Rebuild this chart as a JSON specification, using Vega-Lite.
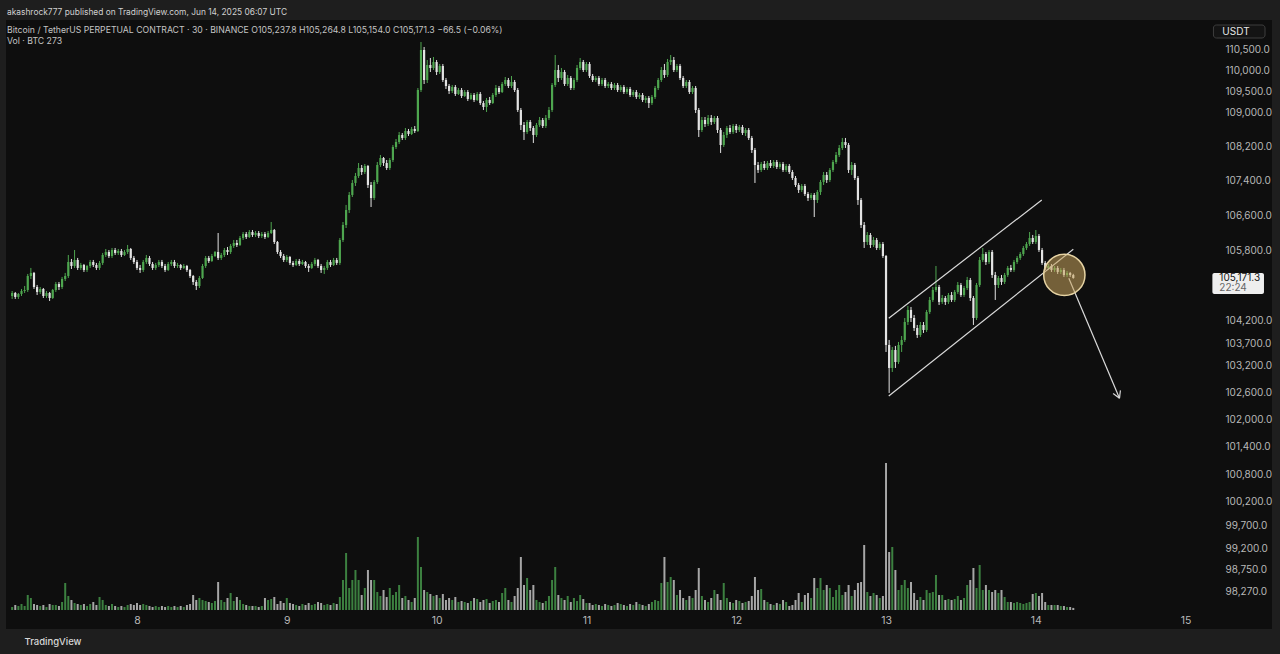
{
"$schema":"https://vega.github.io/schema/vega-lite/v6.json",
"width":1266,"height":609,
"autosize":{"type":"none"},
"padding":{"left":6,"top":20,"right":8,"bottom":25},
"background":"#1e1e1e",
"config":{"font":"Inter","view":{"fill":"#0e0e0e","stroke":null},"axis":{"grid":false,"domain":false,"ticks":false}},
"title":{"text":"akashrock777 published on TradingView.com, Jun 14, 2025 06:07 UTC","subtitle":["Bitcoin / TetherUS PERPETUAL CONTRACT · 30 · BINANCE   O105,237.8  H105,264.8  L105,154.0  C105,171.3  −66.5 (−0.06%)","Vol · BTC  273"],"anchor":"start","frame":"group","orient":"top","fontSize":8.4,"fontWeight":"normal","color":"#d0d0d0","subtitleFontSize":8.7,"subtitleColor":"#c4c4c4","subtitleLineHeight":11,"subtitlePadding":10,"offset":-26,"dx":1},
"datasets":{"candles":[
{"t":"2025-06-07T04:00Z","o":104762,"h":104875,"l":104695,"c":104830,"v":390},
{"t":"2025-06-07T04:30Z","o":104830,"h":104853,"l":104695,"c":104740,"v":650},
{"t":"2025-06-07T05:00Z","o":104740,"h":104830,"l":104695,"c":104808,"v":520},
{"t":"2025-06-07T05:30Z","o":104808,"h":104921,"l":104762,"c":104875,"v":780},
{"t":"2025-06-07T06:00Z","o":104875,"h":104989,"l":104830,"c":104898,"v":520},
{"t":"2025-06-07T06:30Z","o":104898,"h":105262,"l":104853,"c":105216,"v":1950},
{"t":"2025-06-07T07:00Z","o":105216,"h":105399,"l":105148,"c":105285,"v":1560},
{"t":"2025-06-07T07:30Z","o":105285,"h":105308,"l":104921,"c":104966,"v":780},
{"t":"2025-06-07T08:00Z","o":104966,"h":105012,"l":104785,"c":104853,"v":650},
{"t":"2025-06-07T08:30Z","o":104853,"h":104966,"l":104808,"c":104921,"v":520},
{"t":"2025-06-07T09:00Z","o":104921,"h":104943,"l":104717,"c":104762,"v":650},
{"t":"2025-06-07T09:30Z","o":104762,"h":104875,"l":104717,"c":104830,"v":390},
{"t":"2025-06-07T10:00Z","o":104830,"h":104853,"l":104649,"c":104717,"v":780},
{"t":"2025-06-07T10:30Z","o":104717,"h":104921,"l":104695,"c":104898,"v":650},
{"t":"2025-06-07T11:00Z","o":104898,"h":105080,"l":104853,"c":105034,"v":650},
{"t":"2025-06-07T11:30Z","o":105034,"h":105080,"l":104898,"c":104966,"v":520},
{"t":"2025-06-07T12:00Z","o":104966,"h":105194,"l":104921,"c":105148,"v":1040},
{"t":"2025-06-07T12:30Z","o":105148,"h":105285,"l":105102,"c":105216,"v":3510},
{"t":"2025-06-07T13:00Z","o":105216,"h":105695,"l":105171,"c":105535,"v":1820},
{"t":"2025-06-07T13:30Z","o":105535,"h":105604,"l":105376,"c":105444,"v":1300},
{"t":"2025-06-07T14:00Z","o":105444,"h":105809,"l":105399,"c":105581,"v":910},
{"t":"2025-06-07T14:30Z","o":105581,"h":105627,"l":105353,"c":105399,"v":780},
{"t":"2025-06-07T15:00Z","o":105399,"h":105513,"l":105353,"c":105467,"v":650},
{"t":"2025-06-07T15:30Z","o":105467,"h":105490,"l":105308,"c":105353,"v":780},
{"t":"2025-06-07T16:00Z","o":105353,"h":105467,"l":105308,"c":105444,"v":520},
{"t":"2025-06-07T16:30Z","o":105444,"h":105581,"l":105399,"c":105535,"v":780},
{"t":"2025-06-07T17:00Z","o":105535,"h":105581,"l":105421,"c":105467,"v":1040},
{"t":"2025-06-07T17:30Z","o":105467,"h":105513,"l":105353,"c":105399,"v":650},
{"t":"2025-06-07T18:00Z","o":105399,"h":105558,"l":105353,"c":105513,"v":1690},
{"t":"2025-06-07T18:30Z","o":105513,"h":105741,"l":105467,"c":105695,"v":1300},
{"t":"2025-06-07T19:00Z","o":105695,"h":105832,"l":105649,"c":105763,"v":650},
{"t":"2025-06-07T19:30Z","o":105763,"h":105809,"l":105627,"c":105672,"v":520},
{"t":"2025-06-07T20:00Z","o":105672,"h":105855,"l":105627,"c":105809,"v":780},
{"t":"2025-06-07T20:30Z","o":105809,"h":105855,"l":105695,"c":105741,"v":520},
{"t":"2025-06-07T21:00Z","o":105741,"h":105832,"l":105695,"c":105786,"v":390},
{"t":"2025-06-07T21:30Z","o":105786,"h":105832,"l":105649,"c":105695,"v":520},
{"t":"2025-06-07T22:00Z","o":105695,"h":105809,"l":105672,"c":105763,"v":390},
{"t":"2025-06-07T22:30Z","o":105763,"h":105924,"l":105718,"c":105832,"v":650},
{"t":"2025-06-07T23:00Z","o":105832,"h":105855,"l":105581,"c":105627,"v":780},
{"t":"2025-06-07T23:30Z","o":105627,"h":105672,"l":105490,"c":105535,"v":650},
{"t":"2025-06-08T00:00Z","o":105535,"h":105581,"l":105353,"c":105399,"v":910},
{"t":"2025-06-08T00:30Z","o":105399,"h":105467,"l":105285,"c":105353,"v":650},
{"t":"2025-06-08T01:00Z","o":105353,"h":105581,"l":105308,"c":105535,"v":780},
{"t":"2025-06-08T01:30Z","o":105535,"h":105695,"l":105490,"c":105627,"v":650},
{"t":"2025-06-08T02:00Z","o":105627,"h":105672,"l":105444,"c":105490,"v":520},
{"t":"2025-06-08T02:30Z","o":105490,"h":105535,"l":105353,"c":105399,"v":390},
{"t":"2025-06-08T03:00Z","o":105399,"h":105513,"l":105353,"c":105467,"v":520},
{"t":"2025-06-08T03:30Z","o":105467,"h":105581,"l":105421,"c":105535,"v":390},
{"t":"2025-06-08T04:00Z","o":105535,"h":105581,"l":105399,"c":105444,"v":520},
{"t":"2025-06-08T04:30Z","o":105444,"h":105490,"l":105308,"c":105353,"v":390},
{"t":"2025-06-08T05:00Z","o":105353,"h":105535,"l":105330,"c":105490,"v":520},
{"t":"2025-06-08T05:30Z","o":105490,"h":105581,"l":105444,"c":105535,"v":390},
{"t":"2025-06-08T06:00Z","o":105535,"h":105581,"l":105399,"c":105444,"v":520},
{"t":"2025-06-08T06:30Z","o":105444,"h":105513,"l":105399,"c":105467,"v":390},
{"t":"2025-06-08T07:00Z","o":105467,"h":105490,"l":105353,"c":105399,"v":520},
{"t":"2025-06-08T07:30Z","o":105399,"h":105490,"l":105376,"c":105444,"v":390},
{"t":"2025-06-08T08:00Z","o":105444,"h":105467,"l":105308,"c":105353,"v":650},
{"t":"2025-06-08T08:30Z","o":105353,"h":105376,"l":105171,"c":105216,"v":780},
{"t":"2025-06-08T09:00Z","o":105216,"h":105239,"l":105012,"c":105080,"v":1950},
{"t":"2025-06-08T09:30Z","o":105080,"h":105125,"l":104898,"c":104989,"v":1300},
{"t":"2025-06-08T10:00Z","o":104989,"h":105216,"l":104943,"c":105171,"v":1560},
{"t":"2025-06-08T10:30Z","o":105171,"h":105490,"l":105148,"c":105444,"v":1300},
{"t":"2025-06-08T11:00Z","o":105444,"h":105672,"l":105399,"c":105627,"v":1170},
{"t":"2025-06-08T11:30Z","o":105627,"h":105672,"l":105513,"c":105558,"v":1040},
{"t":"2025-06-08T12:00Z","o":105558,"h":105718,"l":105535,"c":105672,"v":910},
{"t":"2025-06-08T12:30Z","o":105672,"h":105786,"l":105649,"c":105763,"v":1170},
{"t":"2025-06-08T13:00Z","o":105763,"h":106198,"l":105581,"c":105627,"v":3640},
{"t":"2025-06-08T13:30Z","o":105627,"h":105741,"l":105581,"c":105695,"v":1300},
{"t":"2025-06-08T14:00Z","o":105695,"h":105855,"l":105649,"c":105809,"v":1040},
{"t":"2025-06-08T14:30Z","o":105809,"h":105878,"l":105695,"c":105763,"v":1560},
{"t":"2025-06-08T15:00Z","o":105763,"h":105946,"l":105718,"c":105901,"v":2210},
{"t":"2025-06-08T15:30Z","o":105901,"h":106038,"l":105855,"c":105969,"v":1170},
{"t":"2025-06-08T16:00Z","o":105969,"h":106038,"l":105878,"c":105924,"v":1690},
{"t":"2025-06-08T16:30Z","o":105924,"h":106130,"l":105901,"c":106084,"v":1300},
{"t":"2025-06-08T17:00Z","o":106084,"h":106221,"l":106038,"c":106175,"v":780},
{"t":"2025-06-08T17:30Z","o":106175,"h":106221,"l":106061,"c":106107,"v":650},
{"t":"2025-06-08T18:00Z","o":106107,"h":106267,"l":106084,"c":106221,"v":520},
{"t":"2025-06-08T18:30Z","o":106221,"h":106267,"l":106107,"c":106153,"v":520},
{"t":"2025-06-08T19:00Z","o":106153,"h":106244,"l":106107,"c":106198,"v":520},
{"t":"2025-06-08T19:30Z","o":106198,"h":106244,"l":106084,"c":106130,"v":390},
{"t":"2025-06-08T20:00Z","o":106130,"h":106221,"l":106084,"c":106175,"v":520},
{"t":"2025-06-08T20:30Z","o":106175,"h":106221,"l":106061,"c":106107,"v":1560},
{"t":"2025-06-08T21:00Z","o":106107,"h":106244,"l":106084,"c":106198,"v":1300},
{"t":"2025-06-08T21:30Z","o":106198,"h":106451,"l":106175,"c":106267,"v":1430},
{"t":"2025-06-08T22:00Z","o":106267,"h":106290,"l":105946,"c":105992,"v":1690},
{"t":"2025-06-08T22:30Z","o":105992,"h":106015,"l":105718,"c":105763,"v":780},
{"t":"2025-06-08T23:00Z","o":105763,"h":105809,"l":105627,"c":105672,"v":1170},
{"t":"2025-06-08T23:30Z","o":105672,"h":105718,"l":105535,"c":105581,"v":910},
{"t":"2025-06-09T00:00Z","o":105581,"h":105695,"l":105535,"c":105649,"v":1560},
{"t":"2025-06-09T00:30Z","o":105649,"h":105672,"l":105467,"c":105513,"v":910},
{"t":"2025-06-09T01:00Z","o":105513,"h":105558,"l":105421,"c":105467,"v":780},
{"t":"2025-06-09T01:30Z","o":105467,"h":105604,"l":105444,"c":105558,"v":650},
{"t":"2025-06-09T02:00Z","o":105558,"h":105604,"l":105444,"c":105490,"v":520},
{"t":"2025-06-09T02:30Z","o":105490,"h":105581,"l":105467,"c":105535,"v":780},
{"t":"2025-06-09T03:00Z","o":105535,"h":105558,"l":105399,"c":105444,"v":650},
{"t":"2025-06-09T03:30Z","o":105444,"h":105490,"l":105308,"c":105399,"v":910},
{"t":"2025-06-09T04:00Z","o":105399,"h":105535,"l":105376,"c":105490,"v":650},
{"t":"2025-06-09T04:30Z","o":105490,"h":105627,"l":105444,"c":105581,"v":780},
{"t":"2025-06-09T05:00Z","o":105581,"h":105604,"l":105399,"c":105444,"v":1040},
{"t":"2025-06-09T05:30Z","o":105444,"h":105490,"l":105285,"c":105353,"v":910},
{"t":"2025-06-09T06:00Z","o":105353,"h":105444,"l":105262,"c":105399,"v":650},
{"t":"2025-06-09T06:30Z","o":105399,"h":105581,"l":105353,"c":105535,"v":780},
{"t":"2025-06-09T07:00Z","o":105535,"h":105581,"l":105421,"c":105467,"v":650},
{"t":"2025-06-09T07:30Z","o":105467,"h":105627,"l":105444,"c":105581,"v":910},
{"t":"2025-06-09T08:00Z","o":105581,"h":105627,"l":105467,"c":105513,"v":780},
{"t":"2025-06-09T08:30Z","o":105513,"h":106084,"l":105467,"c":106038,"v":1690},
{"t":"2025-06-09T09:00Z","o":106038,"h":106451,"l":105992,"c":106382,"v":3900},
{"t":"2025-06-09T09:30Z","o":106382,"h":106844,"l":106313,"c":106728,"v":7410},
{"t":"2025-06-09T10:00Z","o":106728,"h":107144,"l":106659,"c":107075,"v":2860},
{"t":"2025-06-09T10:30Z","o":107075,"h":107422,"l":107028,"c":107353,"v":3900},
{"t":"2025-06-09T11:00Z","o":107353,"h":107585,"l":107283,"c":107515,"v":5200},
{"t":"2025-06-09T11:30Z","o":107515,"h":107817,"l":107469,"c":107701,"v":3900},
{"t":"2025-06-09T12:00Z","o":107701,"h":107771,"l":107539,"c":107608,"v":1950},
{"t":"2025-06-09T12:30Z","o":107608,"h":107794,"l":107562,"c":107748,"v":2860},
{"t":"2025-06-09T13:00Z","o":107748,"h":107771,"l":107236,"c":107306,"v":5200},
{"t":"2025-06-09T13:30Z","o":107306,"h":107376,"l":106797,"c":107005,"v":3900},
{"t":"2025-06-09T14:00Z","o":107005,"h":107422,"l":106959,"c":107376,"v":3900},
{"t":"2025-06-09T14:30Z","o":107376,"h":107841,"l":107329,"c":107771,"v":2340},
{"t":"2025-06-09T15:00Z","o":107771,"h":108004,"l":107725,"c":107934,"v":1820},
{"t":"2025-06-09T15:30Z","o":107934,"h":107957,"l":107748,"c":107817,"v":2600},
{"t":"2025-06-09T16:00Z","o":107817,"h":107887,"l":107655,"c":107701,"v":1690},
{"t":"2025-06-09T16:30Z","o":107701,"h":107934,"l":107655,"c":107887,"v":2860},
{"t":"2025-06-09T17:00Z","o":107887,"h":108238,"l":107841,"c":108191,"v":1950},
{"t":"2025-06-09T17:30Z","o":108191,"h":108378,"l":108144,"c":108308,"v":2340},
{"t":"2025-06-09T18:00Z","o":108308,"h":108542,"l":108261,"c":108472,"v":3250},
{"t":"2025-06-09T18:30Z","o":108472,"h":108519,"l":108355,"c":108402,"v":1560},
{"t":"2025-06-09T19:00Z","o":108402,"h":108636,"l":108355,"c":108566,"v":1820},
{"t":"2025-06-09T19:30Z","o":108566,"h":108613,"l":108449,"c":108496,"v":1300},
{"t":"2025-06-09T20:00Z","o":108496,"h":108660,"l":108472,"c":108613,"v":1040},
{"t":"2025-06-09T20:30Z","o":108613,"h":108683,"l":108519,"c":108566,"v":1560},
{"t":"2025-06-09T21:00Z","o":108566,"h":109579,"l":108542,"c":109532,"v":9490},
{"t":"2025-06-09T21:30Z","o":109532,"h":110674,"l":109485,"c":110483,"v":5590},
{"t":"2025-06-09T22:00Z","o":110483,"h":110555,"l":109674,"c":109769,"v":2600},
{"t":"2025-06-09T22:30Z","o":109769,"h":110245,"l":109698,"c":110126,"v":2340},
{"t":"2025-06-09T23:00Z","o":110126,"h":110292,"l":109959,"c":110054,"v":2080},
{"t":"2025-06-09T23:30Z","o":110054,"h":110316,"l":110007,"c":110197,"v":1820},
{"t":"2025-06-10T00:00Z","o":110197,"h":110245,"l":109888,"c":109959,"v":1950},
{"t":"2025-06-10T00:30Z","o":109959,"h":110150,"l":109912,"c":110102,"v":1560},
{"t":"2025-06-10T01:00Z","o":110102,"h":110150,"l":109722,"c":109769,"v":2080},
{"t":"2025-06-10T01:30Z","o":109769,"h":109817,"l":109556,"c":109627,"v":1300},
{"t":"2025-06-10T02:00Z","o":109627,"h":109674,"l":109438,"c":109508,"v":1560},
{"t":"2025-06-10T02:30Z","o":109508,"h":109650,"l":109461,"c":109603,"v":1300},
{"t":"2025-06-10T03:00Z","o":109603,"h":109650,"l":109390,"c":109438,"v":1690},
{"t":"2025-06-10T03:30Z","o":109438,"h":109579,"l":109414,"c":109532,"v":1040},
{"t":"2025-06-10T04:00Z","o":109532,"h":109579,"l":109343,"c":109390,"v":1170},
{"t":"2025-06-10T04:30Z","o":109390,"h":109532,"l":109367,"c":109485,"v":1040},
{"t":"2025-06-10T05:00Z","o":109485,"h":109532,"l":109272,"c":109320,"v":910},
{"t":"2025-06-10T05:30Z","o":109320,"h":109461,"l":109296,"c":109414,"v":1170},
{"t":"2025-06-10T06:00Z","o":109414,"h":109461,"l":109249,"c":109296,"v":1560},
{"t":"2025-06-10T06:30Z","o":109296,"h":109485,"l":109272,"c":109438,"v":1430},
{"t":"2025-06-10T07:00Z","o":109438,"h":109485,"l":109178,"c":109225,"v":1040},
{"t":"2025-06-10T07:30Z","o":109225,"h":109272,"l":109060,"c":109131,"v":1300},
{"t":"2025-06-10T08:00Z","o":109131,"h":109343,"l":109013,"c":109296,"v":1430},
{"t":"2025-06-10T08:30Z","o":109296,"h":109367,"l":109178,"c":109225,"v":910},
{"t":"2025-06-10T09:00Z","o":109225,"h":109461,"l":109202,"c":109414,"v":1170},
{"t":"2025-06-10T09:30Z","o":109414,"h":109650,"l":109367,"c":109579,"v":1300},
{"t":"2025-06-10T10:00Z","o":109579,"h":109627,"l":109438,"c":109485,"v":1040},
{"t":"2025-06-10T10:30Z","o":109485,"h":109722,"l":109461,"c":109674,"v":2210},
{"t":"2025-06-10T11:00Z","o":109674,"h":109840,"l":109627,"c":109769,"v":2860},
{"t":"2025-06-10T11:30Z","o":109769,"h":109817,"l":109579,"c":109627,"v":1300},
{"t":"2025-06-10T12:00Z","o":109627,"h":109864,"l":109579,"c":109722,"v":1040},
{"t":"2025-06-10T12:30Z","o":109722,"h":109769,"l":109485,"c":109532,"v":1820},
{"t":"2025-06-10T13:00Z","o":109532,"h":109579,"l":109013,"c":109060,"v":2860},
{"t":"2025-06-10T13:30Z","o":109060,"h":109107,"l":108589,"c":108707,"v":6890},
{"t":"2025-06-10T14:00Z","o":108707,"h":108777,"l":108355,"c":108542,"v":3250},
{"t":"2025-06-10T14:30Z","o":108542,"h":108824,"l":108496,"c":108777,"v":4160},
{"t":"2025-06-10T15:00Z","o":108777,"h":108824,"l":108566,"c":108636,"v":2600},
{"t":"2025-06-10T15:30Z","o":108636,"h":108683,"l":108285,"c":108472,"v":3250},
{"t":"2025-06-10T16:00Z","o":108472,"h":108754,"l":108425,"c":108707,"v":1300},
{"t":"2025-06-10T16:30Z","o":108707,"h":108895,"l":108660,"c":108824,"v":1040},
{"t":"2025-06-10T17:00Z","o":108824,"h":108871,"l":108636,"c":108683,"v":910},
{"t":"2025-06-10T17:30Z","o":108683,"h":108942,"l":108636,"c":108871,"v":1170},
{"t":"2025-06-10T18:00Z","o":108871,"h":109131,"l":108824,"c":109060,"v":1820},
{"t":"2025-06-10T18:30Z","o":109060,"h":109698,"l":109013,"c":109650,"v":3900},
{"t":"2025-06-10T19:00Z","o":109650,"h":110364,"l":109603,"c":110007,"v":5590},
{"t":"2025-06-10T19:30Z","o":110007,"h":110126,"l":109722,"c":109817,"v":1950},
{"t":"2025-06-10T20:00Z","o":109817,"h":110054,"l":109769,"c":109959,"v":1560},
{"t":"2025-06-10T20:30Z","o":109959,"h":110007,"l":109627,"c":109674,"v":1300},
{"t":"2025-06-10T21:00Z","o":109674,"h":109888,"l":109627,"c":109817,"v":1820},
{"t":"2025-06-10T21:30Z","o":109817,"h":109864,"l":109532,"c":109579,"v":1040},
{"t":"2025-06-10T22:00Z","o":109579,"h":109817,"l":109532,"c":109769,"v":1560},
{"t":"2025-06-10T22:30Z","o":109769,"h":110126,"l":109722,"c":110054,"v":1170},
{"t":"2025-06-10T23:00Z","o":110054,"h":110292,"l":110007,"c":110197,"v":1950},
{"t":"2025-06-10T23:30Z","o":110197,"h":110245,"l":109959,"c":110007,"v":1430},
{"t":"2025-06-11T00:00Z","o":110007,"h":110197,"l":109959,"c":110150,"v":910},
{"t":"2025-06-11T00:30Z","o":110150,"h":110197,"l":109817,"c":109864,"v":910},
{"t":"2025-06-11T01:00Z","o":109864,"h":109912,"l":109722,"c":109769,"v":650},
{"t":"2025-06-11T01:30Z","o":109769,"h":109864,"l":109722,"c":109817,"v":780},
{"t":"2025-06-11T02:00Z","o":109817,"h":109864,"l":109627,"c":109674,"v":650},
{"t":"2025-06-11T02:30Z","o":109674,"h":109817,"l":109627,"c":109769,"v":520},
{"t":"2025-06-11T03:00Z","o":109769,"h":109817,"l":109579,"c":109627,"v":780},
{"t":"2025-06-11T03:30Z","o":109627,"h":109722,"l":109579,"c":109674,"v":650},
{"t":"2025-06-11T04:00Z","o":109674,"h":109722,"l":109532,"c":109579,"v":520},
{"t":"2025-06-11T04:30Z","o":109579,"h":109698,"l":109532,"c":109650,"v":650},
{"t":"2025-06-11T05:00Z","o":109650,"h":109698,"l":109485,"c":109532,"v":910},
{"t":"2025-06-11T05:30Z","o":109532,"h":109650,"l":109485,"c":109603,"v":780},
{"t":"2025-06-11T06:00Z","o":109603,"h":109650,"l":109438,"c":109485,"v":650},
{"t":"2025-06-11T06:30Z","o":109485,"h":109603,"l":109438,"c":109556,"v":520},
{"t":"2025-06-11T07:00Z","o":109556,"h":109603,"l":109367,"c":109414,"v":780},
{"t":"2025-06-11T07:30Z","o":109414,"h":109532,"l":109367,"c":109485,"v":650},
{"t":"2025-06-11T08:00Z","o":109485,"h":109532,"l":109320,"c":109367,"v":1040},
{"t":"2025-06-11T08:30Z","o":109367,"h":109461,"l":109320,"c":109414,"v":780},
{"t":"2025-06-11T09:00Z","o":109414,"h":109461,"l":109249,"c":109296,"v":650},
{"t":"2025-06-11T09:30Z","o":109296,"h":109390,"l":109225,"c":109343,"v":520},
{"t":"2025-06-11T10:00Z","o":109343,"h":109390,"l":109107,"c":109225,"v":780},
{"t":"2025-06-11T10:30Z","o":109225,"h":109414,"l":109178,"c":109367,"v":1040},
{"t":"2025-06-11T11:00Z","o":109367,"h":109627,"l":109320,"c":109579,"v":1300},
{"t":"2025-06-11T11:30Z","o":109579,"h":109817,"l":109532,"c":109769,"v":1170},
{"t":"2025-06-11T12:00Z","o":109769,"h":110078,"l":109722,"c":110007,"v":3510},
{"t":"2025-06-11T12:30Z","o":110007,"h":110150,"l":109817,"c":109888,"v":6890},
{"t":"2025-06-11T13:00Z","o":109888,"h":110269,"l":109840,"c":110197,"v":3640},
{"t":"2025-06-11T13:30Z","o":110197,"h":110364,"l":110126,"c":110245,"v":4290},
{"t":"2025-06-11T14:00Z","o":110245,"h":110316,"l":109959,"c":110007,"v":3900},
{"t":"2025-06-11T14:30Z","o":110007,"h":110150,"l":109959,"c":110102,"v":1950},
{"t":"2025-06-11T15:00Z","o":110102,"h":110150,"l":109769,"c":109817,"v":2600},
{"t":"2025-06-11T15:30Z","o":109817,"h":109864,"l":109579,"c":109627,"v":1560},
{"t":"2025-06-11T16:00Z","o":109627,"h":109769,"l":109579,"c":109722,"v":1300},
{"t":"2025-06-11T16:30Z","o":109722,"h":109769,"l":109438,"c":109485,"v":1820},
{"t":"2025-06-11T17:00Z","o":109485,"h":109627,"l":109438,"c":109579,"v":1560},
{"t":"2025-06-11T17:30Z","o":109579,"h":109627,"l":108989,"c":109060,"v":2600},
{"t":"2025-06-11T18:00Z","o":109060,"h":109107,"l":108425,"c":108589,"v":5460},
{"t":"2025-06-11T18:30Z","o":108589,"h":108895,"l":108542,"c":108824,"v":1820},
{"t":"2025-06-11T19:00Z","o":108824,"h":108895,"l":108660,"c":108730,"v":1300},
{"t":"2025-06-11T19:30Z","o":108730,"h":108942,"l":108683,"c":108871,"v":1040},
{"t":"2025-06-11T20:00Z","o":108871,"h":108942,"l":108707,"c":108777,"v":1560},
{"t":"2025-06-11T20:30Z","o":108777,"h":108918,"l":108730,"c":108871,"v":2600},
{"t":"2025-06-11T21:00Z","o":108871,"h":108918,"l":108519,"c":108589,"v":2080},
{"t":"2025-06-11T21:30Z","o":108589,"h":108636,"l":108051,"c":108238,"v":1300},
{"t":"2025-06-11T22:00Z","o":108238,"h":108542,"l":108191,"c":108472,"v":3510},
{"t":"2025-06-11T22:30Z","o":108472,"h":108683,"l":108402,"c":108636,"v":1560},
{"t":"2025-06-11T23:00Z","o":108636,"h":108707,"l":108496,"c":108542,"v":1040},
{"t":"2025-06-11T23:30Z","o":108542,"h":108730,"l":108496,"c":108683,"v":910},
{"t":"2025-06-12T00:00Z","o":108683,"h":108730,"l":108519,"c":108589,"v":1300},
{"t":"2025-06-12T00:30Z","o":108589,"h":108707,"l":108542,"c":108660,"v":1170},
{"t":"2025-06-12T01:00Z","o":108660,"h":108707,"l":108472,"c":108519,"v":910},
{"t":"2025-06-12T01:30Z","o":108519,"h":108636,"l":108449,"c":108589,"v":1040},
{"t":"2025-06-12T02:00Z","o":108589,"h":108636,"l":108355,"c":108402,"v":1170},
{"t":"2025-06-12T02:30Z","o":108402,"h":108449,"l":108051,"c":108121,"v":1820},
{"t":"2025-06-12T03:00Z","o":108121,"h":108168,"l":107353,"c":107771,"v":4290},
{"t":"2025-06-12T03:30Z","o":107771,"h":107841,"l":107585,"c":107655,"v":2600},
{"t":"2025-06-12T04:00Z","o":107655,"h":107841,"l":107608,"c":107794,"v":2730},
{"t":"2025-06-12T04:30Z","o":107794,"h":107864,"l":107655,"c":107701,"v":1300},
{"t":"2025-06-12T05:00Z","o":107701,"h":107864,"l":107655,"c":107817,"v":1040},
{"t":"2025-06-12T05:30Z","o":107817,"h":107887,"l":107701,"c":107748,"v":780},
{"t":"2025-06-12T06:00Z","o":107748,"h":107887,"l":107701,"c":107841,"v":650},
{"t":"2025-06-12T06:30Z","o":107841,"h":107887,"l":107678,"c":107725,"v":910},
{"t":"2025-06-12T07:00Z","o":107725,"h":107841,"l":107678,"c":107794,"v":780},
{"t":"2025-06-12T07:30Z","o":107794,"h":107841,"l":107608,"c":107655,"v":1300},
{"t":"2025-06-12T08:00Z","o":107655,"h":107794,"l":107608,"c":107748,"v":1040},
{"t":"2025-06-12T08:30Z","o":107748,"h":107794,"l":107562,"c":107608,"v":520},
{"t":"2025-06-12T09:00Z","o":107608,"h":107655,"l":107422,"c":107469,"v":650},
{"t":"2025-06-12T09:30Z","o":107469,"h":107515,"l":107260,"c":107306,"v":1300},
{"t":"2025-06-12T10:00Z","o":107306,"h":107353,"l":107121,"c":107190,"v":2210},
{"t":"2025-06-12T10:30Z","o":107190,"h":107329,"l":107144,"c":107283,"v":1040},
{"t":"2025-06-12T11:00Z","o":107283,"h":107329,"l":107051,"c":107098,"v":1950},
{"t":"2025-06-12T11:30Z","o":107098,"h":107144,"l":106936,"c":107005,"v":2210},
{"t":"2025-06-12T12:00Z","o":107005,"h":107121,"l":106959,"c":107075,"v":1560},
{"t":"2025-06-12T12:30Z","o":107075,"h":107121,"l":106566,"c":106959,"v":4160},
{"t":"2025-06-12T13:00Z","o":106959,"h":107190,"l":106890,"c":107144,"v":2860},
{"t":"2025-06-12T13:30Z","o":107144,"h":107422,"l":107075,"c":107376,"v":4160},
{"t":"2025-06-12T14:00Z","o":107376,"h":107608,"l":107306,"c":107539,"v":2600},
{"t":"2025-06-12T14:30Z","o":107539,"h":107608,"l":107353,"c":107422,"v":3250},
{"t":"2025-06-12T15:00Z","o":107422,"h":107701,"l":107376,"c":107655,"v":2860},
{"t":"2025-06-12T15:30Z","o":107655,"h":107887,"l":107608,"c":107841,"v":1690},
{"t":"2025-06-12T16:00Z","o":107841,"h":108074,"l":107794,"c":108004,"v":2600},
{"t":"2025-06-12T16:30Z","o":108004,"h":108238,"l":107957,"c":108168,"v":3250},
{"t":"2025-06-12T17:00Z","o":108168,"h":108402,"l":108121,"c":108308,"v":1950},
{"t":"2025-06-12T17:30Z","o":108308,"h":108402,"l":108168,"c":108238,"v":2340},
{"t":"2025-06-12T18:00Z","o":108238,"h":108285,"l":107585,"c":107655,"v":3250},
{"t":"2025-06-12T18:30Z","o":107655,"h":107841,"l":107539,"c":107771,"v":1820},
{"t":"2025-06-12T19:00Z","o":107771,"h":107817,"l":107422,"c":107469,"v":2600},
{"t":"2025-06-12T19:30Z","o":107469,"h":107515,"l":106844,"c":106959,"v":3510},
{"t":"2025-06-12T20:00Z","o":106959,"h":107005,"l":106313,"c":106382,"v":3640},
{"t":"2025-06-12T20:30Z","o":106382,"h":106451,"l":105855,"c":105992,"v":8450},
{"t":"2025-06-12T21:00Z","o":105992,"h":106221,"l":105924,"c":106153,"v":2340},
{"t":"2025-06-12T21:30Z","o":106153,"h":106198,"l":105855,"c":105924,"v":1820},
{"t":"2025-06-12T22:00Z","o":105924,"h":106107,"l":105878,"c":106038,"v":2210},
{"t":"2025-06-12T22:30Z","o":106038,"h":106084,"l":105809,"c":105855,"v":1950},
{"t":"2025-06-12T23:00Z","o":105855,"h":105992,"l":105809,"c":105946,"v":1560},
{"t":"2025-06-12T23:30Z","o":105946,"h":105992,"l":105627,"c":105672,"v":1820},
{"t":"2025-06-13T00:00Z","o":105672,"h":105695,"l":103502,"c":103659,"v":19110},
{"t":"2025-06-13T00:30Z","o":103659,"h":103771,"l":102589,"c":103145,"v":7540},
{"t":"2025-06-13T01:00Z","o":103145,"h":103614,"l":103055,"c":103547,"v":8190},
{"t":"2025-06-13T01:30Z","o":103547,"h":103637,"l":103145,"c":103278,"v":5200},
{"t":"2025-06-13T02:00Z","o":103278,"h":103726,"l":103234,"c":103659,"v":2600},
{"t":"2025-06-13T02:30Z","o":103659,"h":103860,"l":103502,"c":103771,"v":3250},
{"t":"2025-06-13T03:00Z","o":103771,"h":104265,"l":103726,"c":104175,"v":3900},
{"t":"2025-06-13T03:30Z","o":104175,"h":104536,"l":104108,"c":104446,"v":2860},
{"t":"2025-06-13T04:00Z","o":104446,"h":104514,"l":104175,"c":104265,"v":3640},
{"t":"2025-06-13T04:30Z","o":104265,"h":104333,"l":103973,"c":104040,"v":2210},
{"t":"2025-06-13T05:00Z","o":104040,"h":104108,"l":103816,"c":103883,"v":1300},
{"t":"2025-06-13T05:30Z","o":103883,"h":104175,"l":103838,"c":104108,"v":1690},
{"t":"2025-06-13T06:00Z","o":104108,"h":104175,"l":103928,"c":103995,"v":1300},
{"t":"2025-06-13T06:30Z","o":103995,"h":104446,"l":103950,"c":104401,"v":2600},
{"t":"2025-06-13T07:00Z","o":104401,"h":104740,"l":104356,"c":104672,"v":2210},
{"t":"2025-06-13T07:30Z","o":104672,"h":104966,"l":104627,"c":104898,"v":2340},
{"t":"2025-06-13T08:00Z","o":104898,"h":105444,"l":104853,"c":104966,"v":4550},
{"t":"2025-06-13T08:30Z","o":104966,"h":105012,"l":104559,"c":104627,"v":1950},
{"t":"2025-06-13T09:00Z","o":104627,"h":104785,"l":104582,"c":104717,"v":1950},
{"t":"2025-06-13T09:30Z","o":104717,"h":104762,"l":104559,"c":104627,"v":1300},
{"t":"2025-06-13T10:00Z","o":104627,"h":104830,"l":104582,"c":104785,"v":1430},
{"t":"2025-06-13T10:30Z","o":104785,"h":104853,"l":104627,"c":104672,"v":1300},
{"t":"2025-06-13T11:00Z","o":104672,"h":104898,"l":104627,"c":104853,"v":1430},
{"t":"2025-06-13T11:30Z","o":104853,"h":105080,"l":104808,"c":105012,"v":1820},
{"t":"2025-06-13T12:00Z","o":105012,"h":105057,"l":104740,"c":104785,"v":1300},
{"t":"2025-06-13T12:30Z","o":104785,"h":104989,"l":104740,"c":104943,"v":1560},
{"t":"2025-06-13T13:00Z","o":104943,"h":105194,"l":104898,"c":105125,"v":3250},
{"t":"2025-06-13T13:30Z","o":105125,"h":105171,"l":104649,"c":104717,"v":3900},
{"t":"2025-06-13T14:00Z","o":104717,"h":104762,"l":104108,"c":104265,"v":5460},
{"t":"2025-06-13T14:30Z","o":104265,"h":105057,"l":104220,"c":105012,"v":2860},
{"t":"2025-06-13T15:00Z","o":105012,"h":105649,"l":104966,"c":105581,"v":5850},
{"t":"2025-06-13T15:30Z","o":105581,"h":105855,"l":105535,"c":105718,"v":2600},
{"t":"2025-06-13T16:00Z","o":105718,"h":105763,"l":105467,"c":105535,"v":3250},
{"t":"2025-06-13T16:30Z","o":105535,"h":105809,"l":105490,"c":105763,"v":2600},
{"t":"2025-06-13T17:00Z","o":105763,"h":105809,"l":105171,"c":105239,"v":2340},
{"t":"2025-06-13T17:30Z","o":105239,"h":105308,"l":104672,"c":105012,"v":2600},
{"t":"2025-06-13T18:00Z","o":105012,"h":105216,"l":104943,"c":105171,"v":2210},
{"t":"2025-06-13T18:30Z","o":105171,"h":105239,"l":105012,"c":105080,"v":2600},
{"t":"2025-06-13T19:00Z","o":105080,"h":105285,"l":105034,"c":105239,"v":1690},
{"t":"2025-06-13T19:30Z","o":105239,"h":105444,"l":105194,"c":105399,"v":1040},
{"t":"2025-06-13T20:00Z","o":105399,"h":105467,"l":105308,"c":105353,"v":1040},
{"t":"2025-06-13T20:30Z","o":105353,"h":105581,"l":105308,"c":105535,"v":910},
{"t":"2025-06-13T21:00Z","o":105535,"h":105672,"l":105490,"c":105627,"v":1040},
{"t":"2025-06-13T21:30Z","o":105627,"h":105763,"l":105581,"c":105718,"v":910},
{"t":"2025-06-13T22:00Z","o":105718,"h":105901,"l":105672,"c":105855,"v":780},
{"t":"2025-06-13T22:30Z","o":105855,"h":105992,"l":105809,"c":105946,"v":910},
{"t":"2025-06-13T23:00Z","o":105946,"h":106221,"l":105901,"c":106084,"v":1040},
{"t":"2025-06-13T23:30Z","o":106084,"h":106153,"l":105946,"c":105992,"v":2080},
{"t":"2025-06-14T00:00Z","o":105992,"h":106267,"l":105946,"c":106130,"v":2210},
{"t":"2025-06-14T00:30Z","o":106130,"h":106175,"l":105763,"c":105809,"v":1820},
{"t":"2025-06-14T01:00Z","o":105809,"h":105855,"l":105467,"c":105513,"v":2210},
{"t":"2025-06-14T01:30Z","o":105513,"h":105558,"l":105353,"c":105399,"v":1040},
{"t":"2025-06-14T02:00Z","o":105399,"h":105490,"l":105353,"c":105444,"v":650},
{"t":"2025-06-14T02:30Z","o":105444,"h":105490,"l":105308,"c":105353,"v":650},
{"t":"2025-06-14T03:00Z","o":105353,"h":105444,"l":105308,"c":105399,"v":650},
{"t":"2025-06-14T03:30Z","o":105399,"h":105444,"l":105262,"c":105308,"v":650},
{"t":"2025-06-14T04:00Z","o":105308,"h":105399,"l":105262,"c":105353,"v":520},
{"t":"2025-06-14T04:30Z","o":105353,"h":105399,"l":105194,"c":105239,"v":520},
{"t":"2025-06-14T05:00Z","o":105239,"h":105330,"l":105194,"c":105285,"v":390},
{"t":"2025-06-14T05:30Z","o":105285,"h":105308,"l":105194,"c":105237.8,"v":390},
{"t":"2025-06-14T06:00Z","o":105237.8,"h":105264.8,"l":105154.0,"c":105171.3,"v":273}
]},
"resolve":{"scale":{"y":"independent"}},
"layer":[
{"data":{"name":"candles"},
 "mark":{"type":"bar","width":2},
 "encoding":{
  "x":{"field":"t","type":"temporal","scale":{"type":"utc","domain":[1749268140000,1749992520000]}},
  "y":{"field":"v","type":"quantitative","scale":{"domain":[-2470,76700],"nice":false,"zero":false},
       "axis":{"orient":"left","labels":false,"title":"TradingView","titleAngle":0,"titleX":18,"titleY":621,"titleAlign":"left","titleBaseline":"middle","titleColor":"#d8d8d8","titleFontSize":9.5,"titleFontWeight":500}},
  "color":{"condition":{"test":"datum.c >= datum.o","value":"#3c8040"},"value":"#a6a6a6"}}},
{"layer":[
 {"data":{"name":"candles"},
  "mark":{"type":"rule","strokeWidth":1},
  "encoding":{
   "x":{"field":"t","type":"temporal","scale":{"type":"utc","domain":[1749268140000,1749992520000]},
        "axis":{"orient":"bottom","offset":-17,"values":[1749340800000,1749427200000,1749513600000,1749600000000,1749686400000,1749772800000,1749859200000,1749945600000],"format":"%-d","labelColor":"#b8b8b8","labelFontSize":10.5,"labelPadding":3,"title":null}},
   "y":{"field":"l","type":"quantitative","scale":{"type":"log","domain":[97486,111202],"nice":false,"zero":false},
        "axis":{"orient":"right","offset":-48,"values":[110500,110000,109500,109000,108200,107400,106600,105800,104200,103700,103200,102600,102000,101400,100800,100200,99700,99200,98750,98270],"format":",.1f","labelAlign":"left","labelPadding":1,"labelColor":"#b8b8b8","labelFontSize":10,"title":null}},
   "y2":{"field":"h"},
   "color":{"condition":{"test":"datum.c >= datum.o","value":"#4ea64f"},"value":"#e3e3e3"}}},
 {"data":{"name":"candles"},
  "mark":{"type":"bar","width":2.2},
  "encoding":{
   "x":{"field":"t","type":"temporal"},
   "y":{"field":"o","type":"quantitative","scale":{"type":"log","domain":[97486,111202],"nice":false,"zero":false}},
   "y2":{"field":"c"},
   "color":{"condition":{"test":"datum.c >= datum.o","value":"#4ea64f"},"value":"#e3e3e3"}}},
 {"mark":{"type":"rule","color":"#6a6a6a","strokeDash":[1,2],"strokeWidth":1},
  "encoding":{"y":{"datum":105171.3,"type":"quantitative"}}},
 {"data":{"values":[
   {"t1":"2025-06-13T00:26Z","p1":104258,"t2":"2025-06-14T00:57Z","p2":106959},
   {"t1":"2025-06-13T00:26Z","p1":102522,"t2":"2025-06-14T06:00Z","p2":105825},
   {"t1":"2025-06-14T05:17Z","p1":105164,"t2":"2025-06-14T13:24Z","p2":102472},
   {"t1":"2025-06-14T13:24Z","p1":102472,"t2":"2025-06-14T13:33Z","p2":102646},
   {"t1":"2025-06-14T13:24Z","p1":102472,"t2":"2025-06-14T12:23Z","p2":102577}]},
  "mark":{"type":"rule","color":"#dadada","strokeWidth":1.2},
  "encoding":{
   "x":{"field":"t1","type":"temporal"},"x2":{"field":"t2"},
   "y":{"field":"p1","type":"quantitative"},"y2":{"field":"p2"}}},
 {"data":{"values":[{"t":"2025-06-14T04:34Z","p":105239}]},
  "mark":{"type":"circle","size":1705,"fill":"#c9a45c","fillOpacity":0.55,"stroke":"#e6d3a3","strokeWidth":1.5,"opacity":1},
  "encoding":{"x":{"field":"t","type":"temporal"},"y":{"field":"p","type":"quantitative"}}},
 {"data":{"values":[{"t1":"2025-06-15T04:17Z","t2":"2025-06-15T12:33Z","p1":105284,"p2":104808}]},
  "mark":{"type":"rect","fill":"#eeeeee","cornerRadius":2},
  "encoding":{"x":{"field":"t1","type":"temporal"},"x2":{"field":"t2"},"y":{"field":"p1","type":"quantitative"},"y2":{"field":"p2"}}},
 {"data":{"values":[{"t1":"2025-06-15T04:27Z","t2":"2025-06-15T12:43Z","p1":111082,"p2":110770}]},
  "mark":{"type":"rect","fill":"#141414","stroke":"#3e3e3e","strokeWidth":1,"cornerRadius":3},
  "encoding":{"x":{"field":"t1","type":"temporal"},"x2":{"field":"t2"},"y":{"field":"p1","type":"quantitative"},"y2":{"field":"p2"}}},
 {"data":{"values":[
   {"t":"2025-06-15T05:24Z","p":105171,"label":"105,171.3","tone":"dark"},
   {"t":"2025-06-15T05:24Z","p":104943,"label":"22:24","tone":"mid"},
   {"t":"2025-06-15T05:53Z","p":110924,"label":"USDT","tone":"light"}]},
  "mark":{"type":"text","align":"left","baseline":"middle","fontSize":10},
  "encoding":{"x":{"field":"t","type":"temporal"},"y":{"field":"p","type":"quantitative"},"text":{"field":"label"},
   "color":{"field":"tone","type":"nominal","scale":{"domain":["dark","mid","light"],"range":["#131313","#666666","#e6e6e6"]},"legend":null}}}
]}
]}
